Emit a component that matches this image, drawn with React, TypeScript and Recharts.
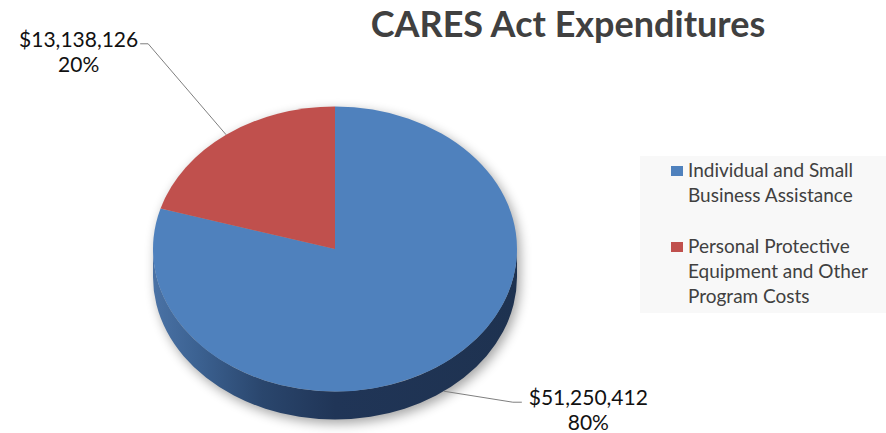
import React from 'react';
import { PieChart, Pie, Cell, Legend, Tooltip } from 'recharts';

// ---- data ----
const categories = [
  'Individual and Small Business Assistance',
  'Personal Protective Equipment and Other Program Costs',
];
const amounts = [51250412, 13138126];
const colors = ['#4F81BD', '#C0504D'];
const titleText = 'CARES Act Expenditures';

const data = categories.map((name, i) => ({ name, value: amounts[i] }));

// ---- layout / style ----
const W = 886;
const H = 433;
const CX = 335;
const CY = 249;
const RX = 182;
const RY_RATIO = 142.5 / 182;
const DEPTH = 28;
const RAD = Math.PI / 180;
const FONT = 'Lato, "Open Sans", sans-serif';

const LABEL_LAYOUT = [
  { dx: 69, dy: 11, run: 9, textDX: 66.5 },
  { dx: -78, dy: -91, run: -8, textDX: -61.5 },
];

const SIDE_STOPS: Record<string, [number, string][]> = {
  '#4F81BD': [
    [0, '#4a72a5'],
    [0.12, '#3c6292'],
    [0.3, '#2a466d'],
    [0.5, '#203557'],
    [1, '#1e3250'],
  ],
  '#C0504D': [
    [0, '#a8473f'],
    [0.3, '#7a3230'],
    [1, '#5a2321'],
  ],
};

const fmt = (v: number) => '$' + v.toLocaleString('en-US');

function renderSector(props: any) {
  const { cx, cy, outerRadius, startAngle, endAngle, fill, index } = props;
  const rx = outerRadius;
  const ry = outerRadius * RY_RATIO;
  const P = (a: number) => [cx + rx * Math.cos(-a * RAD), cy + ry * Math.sin(-a * RAD)];
  const [sx, sy] = P(startAngle);
  const [ex, ey] = P(endAngle);
  const large = Math.abs(endAngle - startAngle) > 180 ? 1 : 0;
  const sweep = startAngle > endAngle ? 1 : 0;
  const top = `M${cx},${cy} L${sx},${sy} A${rx},${ry} 0 ${large} ${sweep} ${ex},${ey} Z`;
  const lo = Math.min(startAngle, endAngle);
  const hi = Math.max(startAngle, endAngle);
  const walls: string[] = [];
  for (let k = -2; k <= 1; k++) {
    const a = Math.max(lo, 180 + 360 * k);
    const b = Math.min(hi, 360 + 360 * k);
    if (b - a > 0.01) {
      const [ax, ay] = P(a);
      const [bx, by] = P(b);
      const lg = b - a > 180 ? 1 : 0;
      walls.push(
        `M${ax},${ay} A${rx},${ry} 0 ${lg} 0 ${bx},${by} L${bx},${by + DEPTH} A${rx},${ry} 0 ${lg} 1 ${ax},${ay + DEPTH} Z`
      );
    }
  }
  const stops = SIDE_STOPS[fill] || SIDE_STOPS['#4F81BD'];
  const gid = `sideGrad${index}`;
  const silhouette = `M${cx - rx},${cy} A${rx},${ry} 0 0 1 ${cx + rx},${cy} L${cx + rx},${cy + DEPTH} A${rx},${ry} 0 0 1 ${cx - rx},${cy + DEPTH} Z`;
  return (
    <g>
      <defs>
        <linearGradient id={gid} gradientUnits="userSpaceOnUse" x1={cx - rx} y1={0} x2={cx + rx} y2={0}>
          {stops.map(([o, c], i) => (
            <stop key={i} offset={`${o * 100}%`} stopColor={c} />
          ))}
        </linearGradient>
        {index === 0 && (
          <filter id="pieShadow" x="-20%" y="-20%" width="140%" height="140%">
            <feGaussianBlur stdDeviation="6" />
          </filter>
        )}
      </defs>
      {index === 0 && (
        <path d={silhouette} fill="#000" opacity={0.36} filter="url(#pieShadow)" transform="translate(3,4)" />
      )}
      {walls.map((d, i) => (
        <path key={i} d={d} fill={`url(#${gid})`} stroke="none" />
      ))}
      <path d={top} fill={fill} stroke="none" />
    </g>
  );
}

function renderLabel(p: any) {
  const { cx, cy, outerRadius, midAngle, percent, value, index } = p;
  const rx = outerRadius;
  const ry = rx * RY_RATIO;
  const ax = cx + rx * Math.cos(-midAngle * RAD);
  let ay = cy + ry * Math.sin(-midAngle * RAD);
  if (Math.sin(midAngle * RAD) < 0) ay += DEPTH;
  const L = LABEL_LAYOUT[index];
  const ex = ax + L.dx;
  const ey = ay + L.dy;
  const hx = ex + L.run;
  const tx = hx + L.textDX;
  return (
    <g key={`lbl${index}`}>
      <polyline points={`${ax},${ay} ${ex},${ey} ${hx},${ey}`} fill="none" stroke="#7f7f7f" strokeWidth={1} />
      <text x={tx} y={ey + 3} textAnchor="middle" fontSize={21} fill="#111" fontFamily={FONT}>
        <tspan x={tx} dy={0}>{fmt(value)}</tspan>
        <tspan x={tx} dy={25}>{`${Math.round(percent * 100)}%`}</tspan>
      </text>
    </g>
  );
}

function renderLegend(props: any) {
  const payload = props.payload || [];
  return (
    <div style={{ position: 'relative', width: 246, height: 157, fontFamily: FONT }}>
      {payload.map((entry: any, i: number) => (
        <div
          key={i}
          style={{
            position: 'absolute',
            left: 31,
            top: i === 0 ? 1 : 77,
            display: 'flex',
            alignItems: 'flex-start',
          }}
        >
          <div
            style={{
              width: 12,
              height: 10,
              marginTop: 9,
              background: colors[i] || entry.color,
              flex: 'none',
            }}
          />
          <div
            style={{
              marginLeft: 5,
              width: 192,
              fontSize: 19,
              lineHeight: '25px',
              color: '#404040',
            }}
          >
            {entry.value}
          </div>
        </div>
      ))}
    </div>
  );
}

export default function App() {
  return (
    <div style={{ position: 'absolute', left: 0, top: 0, width: W, height: H, background: '#fff', fontFamily: FONT }}>
      <PieChart width={W} height={H} margin={{ top: 0, right: 0, bottom: 0, left: 0 }}>
        <Pie
          data={data}
          dataKey="value"
          nameKey="name"
          cx={CX}
          cy={CY}
          outerRadius={RX}
          startAngle={90}
          endAngle={-270}
          isAnimationActive={false}
          stroke="none"
          {...({ shape: renderSector } as any)}
          inactiveShape={renderSector}
          activeShape={renderSector}
          label={renderLabel}
          labelLine={false}
        >
          {data.map((d, i) => (
            <Cell key={d.name} fill={colors[i]} />
          ))}
        </Pie>
        <Tooltip defaultIndex={0} content={() => null} cursor={false} />
        <Legend
          content={renderLegend}
          wrapperStyle={{ left: 640, top: 156, width: 246, height: 157, background: '#f8f8f8', bottom: 'auto', right: 'auto' }}
        />
      </PieChart>
      <div
        style={{
          position: 'absolute',
          left: 318,
          width: 500,
          top: 5,
          textAlign: 'center',
          fontSize: 36,
          lineHeight: '36px',
          fontWeight: 700,
          color: '#404040',
          whiteSpace: 'nowrap',
        }}
      >
        {titleText}
      </div>
    </div>
  );
}
